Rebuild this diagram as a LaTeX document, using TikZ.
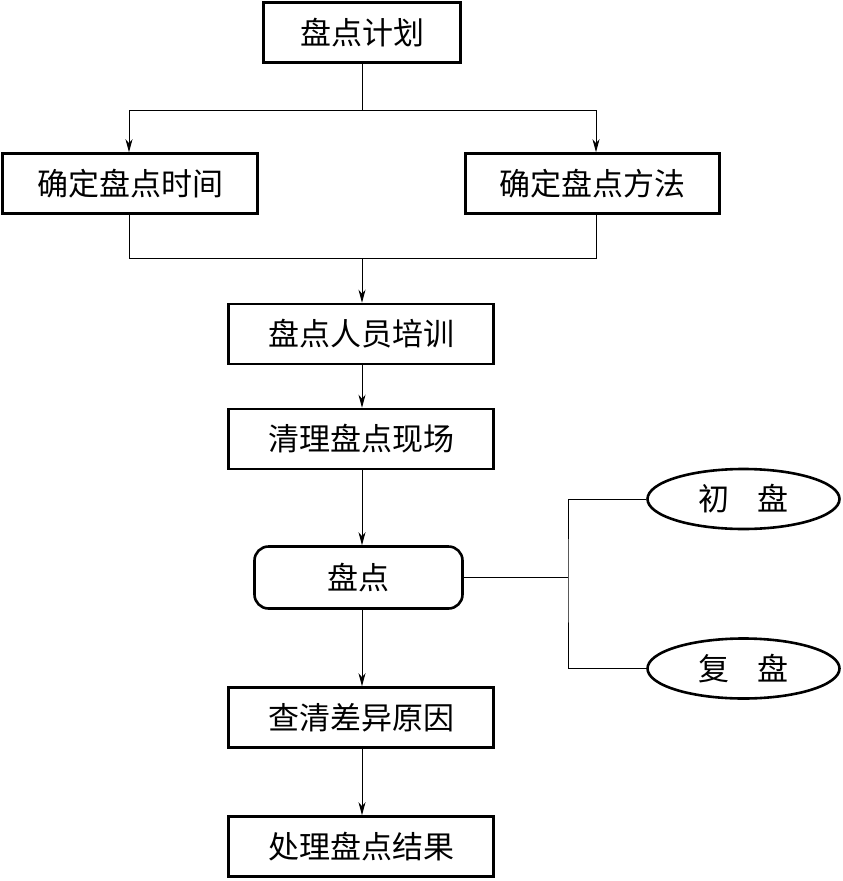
\documentclass[tikz,border=0pt]{standalone}
\usepackage{fontspec}
\newfontfamily\cjk{Noto Sans CJK SC}
\usetikzlibrary{arrows.meta,shapes.geometric}
\begin{document}
\begin{tikzpicture}[x=1pt,y=-1pt,
  box/.style={draw,line width=2.6pt,minimum height=60pt,inner sep=0pt,font=\cjk\fontsize{31}{33}\selectfont},
  rbox/.style={box,rounded corners=14pt},
  oval/.style={draw,ellipse,line width=2.6pt,minimum width=192pt,minimum height=60pt,inner sep=0pt,font=\cjk\fontsize{31}{33}\selectfont},
  conn/.style={line width=0.9pt},
  arr/.style={conn,-{Stealth[length=13pt,width=7pt,inset=4pt]}}]
\useasboundingbox (0,0) rectangle (843,881);
\node[box,minimum width=197pt] (plan) at (362,32.5) {盘点计划};
\node[box,minimum width=255pt] (time) at (130,183.5) {确定盘点时间};
\node[box,minimum width=254pt] (meth) at (592.5,183.5) {确定盘点方法};
\node[box,minimum width=265pt] (train) at (361,334) {盘点人员培训};
\node[box,minimum width=265pt] (clean) at (361,439) {清理盘点现场};
\node[rbox,minimum width=208pt,minimum height=62pt] (pd) at (358.5,577.5) {盘点};
\node[oval] (chu) at (743.5,499) {初\hspace{0.9em}盘};
\node[oval] (fu) at (743.5,668.5) {复\hspace{0.9em}盘};
\node[box,minimum width=265pt] (diff) at (361,717.5) {查清差异原因};
\node[box,minimum width=265pt] (res) at (361,846.5) {处理盘点结果};
\coordinate (split) at (362,110);
\coordinate (merge) at (362,258);
\coordinate (join) at (568,577.5);
\draw[conn] (plan.south) -- (split);
\draw[arr] (split) -| (time.north -| 129,0);
\draw[arr] (split) -| (meth.north -| 596,0);
\draw[conn] (time.south -| 129,0) |- (merge);
\draw[conn] (meth.south -| 596,0) |- (merge);
\draw[arr] (merge) -- (train.north -| merge);
\draw[arr] (train.south -| merge) -- (clean.north -| merge);
\draw[arr] (clean.south -| merge) -- (pd.north -| merge);
\draw[arr] (pd.south -| merge) -- (diff.north -| merge);
\draw[arr] (diff.south -| merge) -- (res.north -| merge);
\draw[conn] (pd.east) -- (join);
\draw[conn] (chu.west) -| (join) |- (fu.west);
\end{tikzpicture}
\end{document}
